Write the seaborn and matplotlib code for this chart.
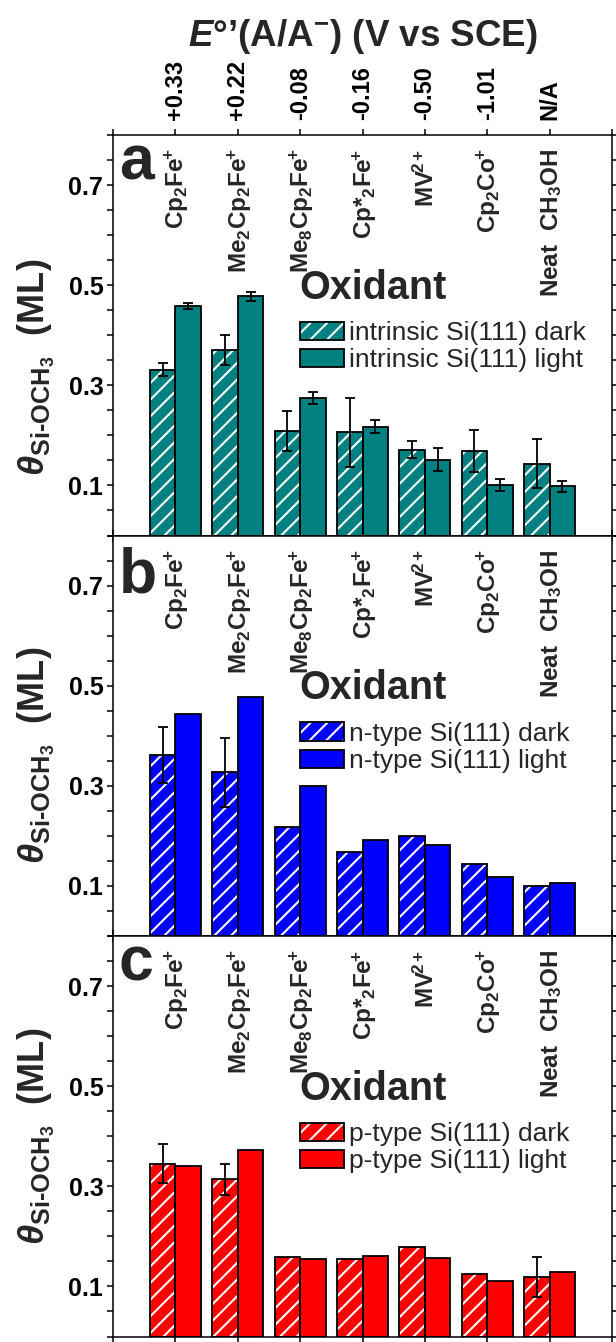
import numpy as np
import pandas as pd
import matplotlib
matplotlib.use("Agg")
import matplotlib.pyplot as plt
import seaborn as sns
from matplotlib.patches import Patch, Rectangle

# ---------------- data ----------------
oxidants = [r"$\mathbf{Cp_2Fe}^{\!\!+}$", r"$\mathbf{Me_2Cp_2Fe}^{\!\!+}$",
            r"$\mathbf{Me_8Cp_2Fe}^{\!\!+}$", r"Cp*$_2\mathbf{Fe}^{\!\!+}$",
            r"$\mathbf{MV}^{\!2+}$", r"$\mathbf{Cp_2Co}^{\!\!+}$",
            r"Neat  CH$_3$OH"]
potentials = ["+0.33", "+0.22", "-0.08", "-0.16", "-0.50", "-1.01", "N/A"]
nan = np.nan

intrinsic_dark = [0.331, 0.370, 0.208, 0.206, 0.171, 0.169, 0.143]
intrinsic_dark_err = [0.013, 0.030, 0.040, 0.069, 0.017, 0.042, 0.049]
intrinsic_light = [0.459, 0.478, 0.274, 0.217, 0.151, 0.101, 0.098]
intrinsic_light_err = [0.006, 0.009, 0.012, 0.013, 0.023, 0.012, 0.011]

ntype_dark = [0.362, 0.327, 0.218, 0.168, 0.200, 0.143, 0.099]
ntype_dark_err = [0.056, 0.069, nan, nan, nan, nan, nan]
ntype_light = [0.443, 0.477, 0.300, 0.192, 0.182, 0.117, 0.105]
ntype_light_err = [nan, nan, nan, nan, nan, nan, nan]

ptype_dark = [0.345, 0.314, 0.158, 0.154, 0.178, 0.125, 0.118]
ptype_dark_err = [0.039, 0.031, nan, nan, nan, nan, 0.040]
ptype_light = [0.340, 0.372, 0.155, 0.161, 0.156, 0.111, 0.128]
ptype_light_err = [nan, nan, nan, nan, nan, nan, nan]

series_names = ["intrinsic", "n-type", "p-type"]
series_colors = ["#008080", "#0000FF", "#FF0000"]
panel_letters = ["a", "b", "c"]

# ---------------- style ----------------
sns.set_style("ticks")
plt.rcParams.update({
    "font.family": ["Liberation Sans", "DejaVu Sans"],
    "font.weight": "bold",
    "mathtext.fontset": "custom",
    "mathtext.rm": "Liberation Sans:bold",
    "mathtext.bf": "Liberation Sans:bold",
    "mathtext.it": "Liberation Sans:italic:bold",
    "mathtext.bfit": "Liberation Sans:italic:bold",
    "mathtext.default": "bf",
    "hatch.linewidth": 1.5,
    "axes.linewidth": 1.1,
    "axes.edgecolor": "black",
    "xtick.color": "black",
    "ytick.color": "black",
})

W, H = 616, 1342
fig = plt.figure(figsize=(W / 100, H / 100), dpi=100)
left_px, right_px = 113, 612
panel_h = 400.5
tops = [135, 135 + panel_h, 135 + 2 * panel_h]
letter_base = [0.888, 0.857, 0.890]
ylabel_y = [0.42, 0.45, 0.50]

datasets = [
    (intrinsic_dark, intrinsic_dark_err, intrinsic_light, intrinsic_light_err),
    (ntype_dark, ntype_dark_err, ntype_light, ntype_light_err),
    (ptype_dark, ptype_dark_err, ptype_light, ptype_light_err),
]

ylabel = r"$\mathbfit{\theta}_{\mathbf{Si\text{-}OCH}_{\mathbf{3}}}$  (ML)"

for i, (dark, dark_err, light, light_err) in enumerate(datasets):
    color = series_colors[i]
    top = tops[i]
    ax = fig.add_axes([left_px / W, 1 - (top + panel_h) / H,
                       (right_px - left_px) / W, panel_h / H])
    df = pd.DataFrame({
        "oxidant": oxidants * 2,
        "condition": ["dark"] * len(oxidants) + ["light"] * len(oxidants),
        "coverage": list(dark) + list(light),
    })
    sns.barplot(data=df, x="oxidant", y="coverage", hue="condition",
                order=oxidants, hue_order=["dark", "light"],
                palette={"dark": color, "light": color}, saturation=1,
                width=0.82, gap=0, errorbar=None, edgecolor="black",
                linewidth=1.3, legend=False, ax=ax)
    dark_bars, light_bars = ax.containers[0], ax.containers[1]
    for p in dark_bars:
        p.set_hatch("//")
        p.set_edgecolor("white")
        p.set_linewidth(0)
        ax.add_patch(Rectangle(p.get_xy(), p.get_width(), p.get_height(),
                               facecolor="none", edgecolor="black", linewidth=1.3,
                               zorder=p.get_zorder() + 0.1))
    for bars, vals, errs in [(dark_bars, dark, dark_err), (light_bars, light, light_err)]:
        xs = [p.get_x() + p.get_width() / 2 for p in bars]
        sel = [k for k, e in enumerate(errs) if not np.isnan(e)]
        if sel:
            ax.errorbar([xs[k] for k in sel], [vals[k] for k in sel],
                        yerr=[errs[k] for k in sel], fmt="none", ecolor="black",
                        elinewidth=1.3, capsize=3.5, capthick=1.3, zorder=5)

    ax.set_xlim(-1, 7)
    ax.set_ylim(0, 0.8)
    ax.set_xlabel("")
    ax.set_ylabel("")
    yt = np.round(np.arange(0, 0.8001, 0.05), 2)
    ax.set_yticks(yt)
    ax.set_yticklabels([f"{v:.1f}" if round(v * 20) % 4 == 2 else "" for v in yt])
    ax.set_xticks(range(-1, 8))
    ax.set_xticklabels([""] + potentials + [""])
    ax.tick_params(axis="x", which="both", top=True, bottom=True, direction="out",
                   length=4.5, width=1.1, labelbottom=False, labeltop=(i == 0),
                   labelrotation=90, labelsize=17, pad=6.5)
    ax.tick_params(axis="y", which="both", left=True, right=True, direction="out",
                   length=4.5, width=1.1, labelsize=18, pad=2.5)
    for s in ax.spines.values():
        s.set_visible(True)
        s.set_linewidth(1.1)
        s.set_color("black")

    # category names inside panel
    for k, name in enumerate(oxidants):
        ax.text(k + 0.03, 0.772, name, rotation=90, ha="center", va="top",
                fontsize=17.5, fontweight="bold")
    ax.text(0.521, 0.495 / 0.8, "Oxidant", transform=ax.transAxes,
            ha="center", va="center", fontsize=28.5, fontweight="bold")
    ax.text(0.012, letter_base[i], panel_letters[i], transform=ax.transAxes,
            ha="left", va="baseline", fontsize=45, fontweight="bold")
    ax.text(-0.153, ylabel_y[i], ylabel, transform=ax.transAxes, rotation=90,
            ha="center", va="center", fontsize=26, fontweight="bold")

    name = series_names[i]
    handles = [
        (Patch(facecolor=color, edgecolor="white", hatch="//", linewidth=0),
         Patch(facecolor="none", edgecolor="black", linewidth=1.3)),
        Patch(facecolor=color, edgecolor="black", linewidth=1.3),
    ]
    labels = [f"{name} Si(111) dark", f"{name} Si(111) light"]
    ax.legend(handles, labels, loc="upper left", bbox_to_anchor=(0.375, 0.535),
              frameon=False, borderpad=0, borderaxespad=0, handlelength=1.65,
              handleheight=0.68, handletextpad=0.2, labelspacing=0.12,
              prop={"family": "Liberation Sans", "weight": "normal", "size": 19})

fig.text(363 / W, 1 - 36 / H, r"$\mathbfit{E}$°’(A/A$^{-}$) (V vs SCE)",
         ha="center", va="center", fontsize=26.5, fontweight="bold")

fig.savefig("out.png", dpi=100)
